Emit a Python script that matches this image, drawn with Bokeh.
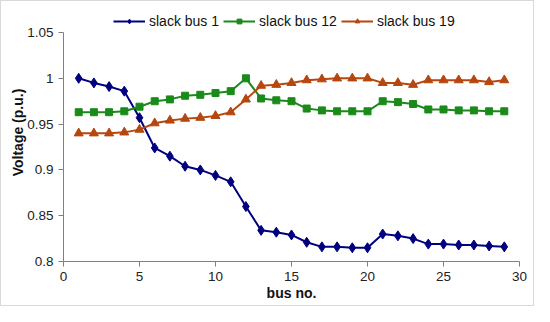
from bokeh.plotting import figure
from bokeh.models import Legend, LegendItem, Range1d, FixedTicker
from bokeh.embed import file_html
from bokeh.resources import INLINE

bus = list(range(1, 30))
slack_bus_1 = [1.000, 0.995, 0.991, 0.986, 0.957, 0.924, 0.915, 0.904, 0.900, 0.894,
               0.887, 0.860, 0.834, 0.832, 0.829, 0.821, 0.816, 0.816, 0.815, 0.815,
               0.830, 0.828, 0.825, 0.819, 0.819, 0.818, 0.818, 0.817, 0.816]
slack_bus_12 = [0.963, 0.963, 0.963, 0.964, 0.969, 0.975, 0.977, 0.981, 0.982, 0.984,
                0.986, 1.000, 0.978, 0.976, 0.975, 0.967, 0.965, 0.964, 0.964, 0.964,
                0.975, 0.974, 0.972, 0.966, 0.966, 0.965, 0.965, 0.964, 0.964]
slack_bus_19 = [0.940, 0.940, 0.940, 0.941, 0.944, 0.951, 0.954, 0.956, 0.957, 0.959,
                0.963, 0.977, 0.992, 0.993, 0.995, 0.998, 0.999, 1.000, 1.000, 1.000,
                0.995, 0.995, 0.993, 0.998, 0.998, 0.998, 0.998, 0.996, 0.998]
x_ticks = [0, 5, 10, 15, 20, 25, 30]
y_ticks = [0.8, 0.85, 0.9, 0.95, 1.0, 1.05]
y_labels = {0.8: "0.8", 0.85: "0.85", 0.9: "0.9", 0.95: "0.95", 1.0: "1", 1.05: "1.05"}

# y axis spans 0.8..1.05; frame extends a bit higher to host the legend
p = figure(width=534, height=306, output_backend="svg", toolbar_location=None,
           x_range=Range1d(0, 30), y_range=Range1d(0.8, 1.0817),
           min_border_left=62, min_border_right=16, min_border_top=2, min_border_bottom=46)
p.outline_line_color = None
p.grid.visible = False
p.styles = {"border": "1px solid #d9d9d9"}

font = "Liberation Sans"
for ax in (p.xaxis[0], p.yaxis[0]):
    ax.axis_line_color = "#808080"
    ax.major_tick_line_color = "#808080"
    ax.major_tick_out = 5
    ax.major_tick_in = 0
    ax.minor_tick_line_color = None
    ax.major_label_text_font = font
    ax.major_label_text_font_size = "13.5px"
    ax.major_label_text_color = "#222222"
    ax.axis_label_text_font = font
    ax.axis_label_text_font_size = "14px"
    ax.axis_label_text_font_style = "bold"
    ax.axis_label_text_color = "#111111"

p.xaxis.ticker = FixedTicker(ticks=x_ticks)
p.yaxis.ticker = FixedTicker(ticks=y_ticks)
p.yaxis.bounds = (0.8, 1.05)
p.yaxis.major_label_overrides = y_labels
p.xaxis.axis_label = "bus no."
p.yaxis.axis_label = "Voltage (p.u.)"
p.xaxis.axis_label_standoff = 1
p.yaxis.axis_label_standoff = -2

c1, c2, c3 = "#00007f", "#1a8a1a", "#b5470f"
l1 = p.line(bus, slack_bus_1, line_color=c1, line_width=2)
m1 = p.scatter(bus, slack_bus_1, marker="diamond", size=10, color=c1)
l2 = p.line(bus, slack_bus_12, line_color=c2, line_width=2)
m2 = p.scatter(bus, slack_bus_12, marker="square", size=7, color=c2)
l3 = p.line(bus, slack_bus_19, line_color=c3, line_width=2)
m3 = p.scatter(bus, slack_bus_19, marker="triangle", size=9, color=c3)

legend = Legend(items=[LegendItem(label="slack bus 1", renderers=[l1, m1]),
                       LegendItem(label="slack bus 12", renderers=[l2, m2]),
                       LegendItem(label="slack bus 19", renderers=[l3, m3])],
                orientation="horizontal", location=(50, 232),
                label_text_font=font, label_text_font_size="14px",
                label_text_color="#111111", glyph_width=32, glyph_height=12,
                label_height=14,
                label_standoff=4, spacing=4, padding=0, margin=0,
                border_line_color=None, background_fill_alpha=0)
p.add_layout(legend, "center")

open("out.html", "w").write(file_html(p, INLINE))
